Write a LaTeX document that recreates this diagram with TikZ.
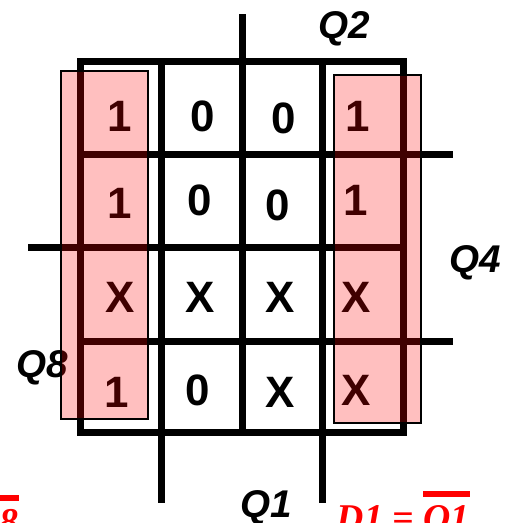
\documentclass[tikz,border=0pt]{standalone}
\usepackage{fontspec}
\setmainfont{Liberation Sans}
\newfontfamily\eqnfont{Liberation Serif}
\usetikzlibrary{positioning}
\newcommand\thickbar[1]{\setbox0\hbox{#1}\rlap{\raisebox{\dimexpr\ht0+0.16cm\relax}{\rule{\wd0}{0.12cm}}}\box0}

\begin{document}
\begin{tikzpicture}[x=0.02cm,y=-0.02cm,
  cell/.style={font=\fontsize{25}{30}\selectfont\bfseries},
  lbl/.style={anchor=base,font=\fontsize{22}{26}\selectfont\bfseries\itshape},
  gridline/.style={line width=0.14cm},
  grp/.style={draw,line width=0.03cm,fill=red,fill opacity=0.25},
  eqn/.style={anchor=base east,text=red,inner sep=0pt,
              font=\fontsize{21.5}{26}\selectfont\eqnfont\bfseries\itshape}]
\useasboundingbox (0,0) rectangle (531,522);
\clip (0,0) rectangle (531,522);
% map outline and dividers
\draw[gridline] (80,61) rectangle (403,432);
\draw[gridline] (242,14) -- (242,432);
\draw[gridline] (161,61) -- (161,503);
\draw[gridline] (322,61) -- (322,503);
\draw[gridline] (80,154) -- (453,154);
\draw[gridline] (28,247) -- (403,247);
\draw[gridline] (80,341) -- (453,341);
% cell values
\node[cell] (r1c1) at (120,116) {1};
\node[cell] (r1c2) at (203,116) {0};
\node[cell] (r1c3) at (284,118) {0};
\node[cell] (r1c4) at (358,116) {1};
\node[cell] (r2c1) at (120,203) {1};
\node[cell] (r2c2) at (200,200) {0};
\node[cell] (r2c3) at (278,205) {0};
\node[cell] (r2c4) at (356,200) {1};
\node[cell] (r3c1) at (120,297) {X};
\node[cell] (r3c2) at (200,297) {X};
\node[cell] (r3c3) at (280,297) {X};
\node[cell] (r3c4) at (356,297) {X};
\node[cell] (r4c1) at (117,392) {1};
\node[cell] (r4c2) at (198,390) {0};
\node[cell] (r4c3) at (280,392) {X};
\node[cell] (r4c4) at (356,390) {X};
% variable labels
\node[lbl] (q2) at (344,38) {Q2};
\node[lbl] (q4) at (475,272) {Q4};
\node[lbl] (q8) at (42,377) {Q8};
\node[lbl] (q1) at (266,517) {Q1};
% groups
\draw[grp] (61,71) rectangle (148,419);
\draw[grp] (334,75) rectangle (421,423);
% equations
\node[eqn] (d8) at (19,534) {D8 = \thickbar{Q8}};
\node[eqn] (d1) at (470,530) {D1 = \thickbar{Q1}};
\end{tikzpicture}
\end{document}
